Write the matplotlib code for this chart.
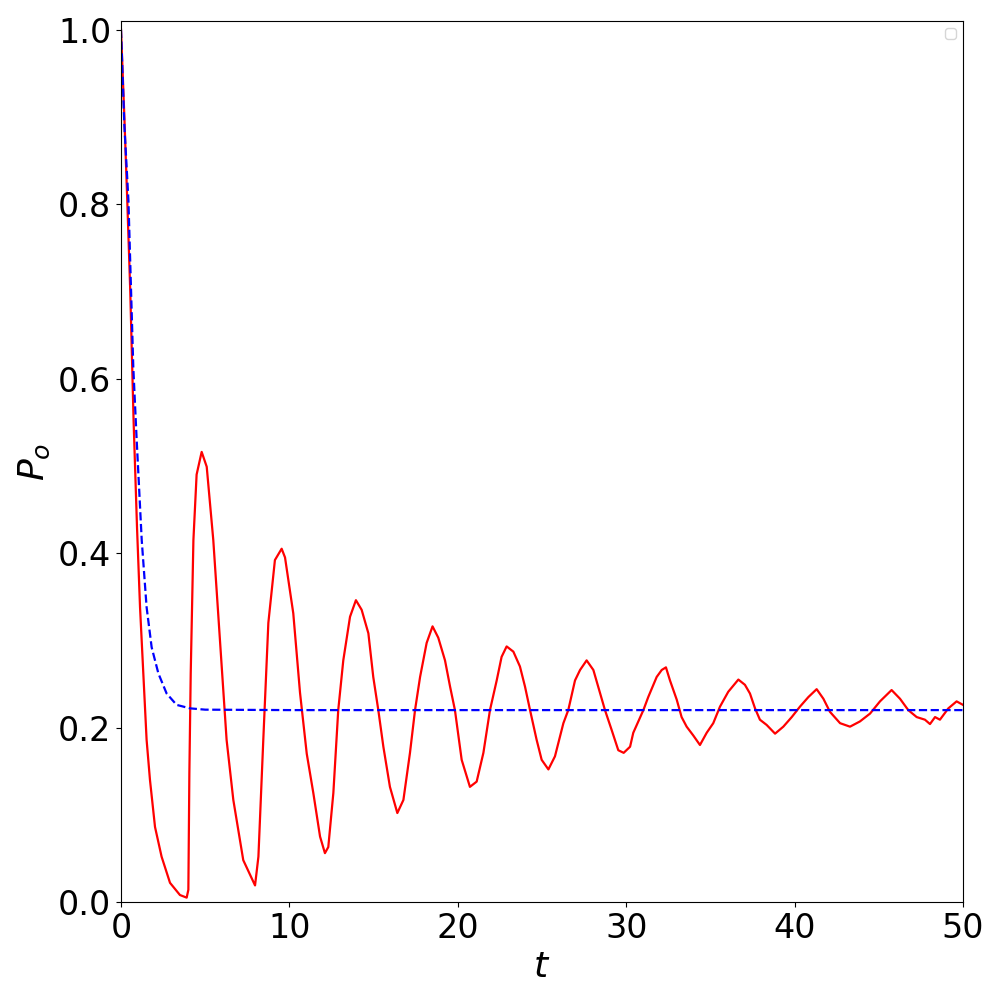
import matplotlib
matplotlib.use('Agg')
import matplotlib.pyplot as plt

# red curve: simulated P_o(t)
t_red = [0.0, 0.2, 0.37, 0.55, 0.75, 0.95, 1.13, 1.33, 1.52, 1.72, 2.02, 2.41, 2.91, 3.5, 3.9, 4.0,
         4.06, 4.14, 4.3, 4.49, 4.79, 5.09, 5.48, 5.88, 6.27, 6.67, 7.26, 7.96, 8.16, 8.45, 8.75,
         9.14, 9.54, 9.74, 10.23, 10.63, 11.03, 11.42, 11.82, 12.11, 12.31, 12.61, 12.9, 13.2,
         13.6, 13.95, 14.29, 14.69, 14.98, 15.28, 15.58, 15.97, 16.41, 16.77, 17.16, 17.46,
         17.76, 18.15, 18.5, 18.84, 19.24, 19.54, 19.83, 20.23, 20.72, 21.12, 21.52, 21.91,
         22.31, 22.6, 22.9, 23.3, 23.69, 23.99, 24.29, 24.68, 24.98, 25.38, 25.77, 26.27, 26.56,
         26.96, 27.26, 27.65, 28.05, 28.44, 28.74, 29.14, 29.53, 29.85, 30.23, 30.42, 31.02,
         31.31, 31.81, 32.11, 32.36, 32.6, 33.0, 33.29, 33.59, 33.98, 34.38, 34.78, 35.17,
         35.57, 36.06, 36.66, 37.05, 37.35, 37.65, 37.94, 38.34, 38.84, 39.33, 39.83, 40.32,
         40.82, 41.31, 41.71, 42.1, 42.7, 43.29, 43.88, 44.48, 45.07, 45.76, 46.26, 46.75,
         47.25, 47.74, 48.04, 48.34, 48.63, 49.13, 49.62, 50.0]
p_red = [1.0, 0.9, 0.805, 0.70, 0.55, 0.43, 0.338, 0.26, 0.186, 0.14, 0.086, 0.052, 0.022, 0.008,
         0.005, 0.014, 0.148, 0.262, 0.415, 0.49, 0.516, 0.499, 0.415, 0.30, 0.186, 0.117, 0.048,
         0.019, 0.052, 0.186, 0.32, 0.392, 0.405, 0.395, 0.331, 0.24, 0.17, 0.125, 0.075, 0.056,
         0.063, 0.125, 0.22, 0.277, 0.327, 0.346, 0.335, 0.308, 0.258, 0.22, 0.178, 0.132, 0.102,
         0.117, 0.171, 0.22, 0.258, 0.297, 0.316, 0.303, 0.277, 0.247, 0.22, 0.163, 0.132, 0.138,
         0.171, 0.22, 0.254, 0.281, 0.293, 0.287, 0.27, 0.247, 0.22, 0.186, 0.163, 0.152, 0.167,
         0.205, 0.22, 0.254, 0.266, 0.277, 0.266, 0.24, 0.22, 0.197, 0.174, 0.171, 0.178, 0.194,
         0.22, 0.235, 0.258, 0.266, 0.269, 0.254, 0.232, 0.212, 0.201, 0.191, 0.18, 0.194, 0.205,
         0.224, 0.241, 0.255, 0.249, 0.239, 0.222, 0.209, 0.203, 0.193, 0.201, 0.212, 0.224,
         0.235, 0.244, 0.233, 0.218, 0.205, 0.201, 0.207, 0.216, 0.23, 0.243, 0.233, 0.22,
         0.212, 0.209, 0.204, 0.212, 0.209, 0.222, 0.23, 0.226]

# blue dashed curve: decay to steady value
t_blue = [0.0, 0.2, 0.44, 0.73, 0.93, 1.23, 1.52, 1.82, 2.22, 2.71, 3.3, 4.1, 5.0, 10.0, 20.0, 30.0, 40.0, 50.0]
p_blue = [1.0, 0.89, 0.805, 0.613, 0.53, 0.415, 0.338, 0.292, 0.262, 0.239, 0.226, 0.222, 0.2205,
          0.22, 0.22, 0.22, 0.22, 0.22]

fig, ax = plt.subplots(figsize=(10, 10), dpi=100)
ax.plot(t_red, p_red, color='red', lw=1.6)
ax.plot(t_blue, p_blue, color='blue', ls='--', lw=1.6)
ax.set_xlim(0, 50)
ax.set_ylim(0, 1.01)
ax.set_xlabel('$t$', fontsize=26)
ax.set_ylabel('$P_o$', fontsize=26)
ax.tick_params(labelsize=24)
ax.legend()
plt.subplots_adjust(left=0.121, right=0.963, top=0.979, bottom=0.098)
plt.savefig('out.png')
